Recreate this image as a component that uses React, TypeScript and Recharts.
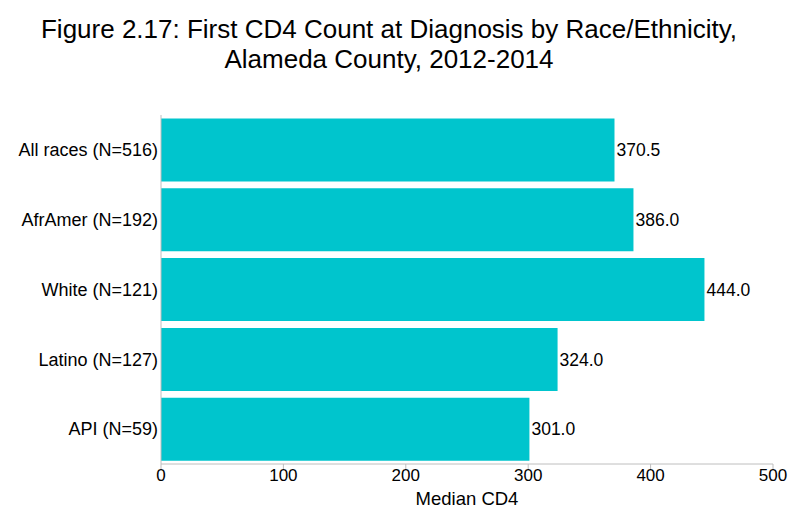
import React from 'react';
import { BarChart, Bar, XAxis, YAxis, LabelList } from 'recharts';

const groups = ['All races (N=516)', 'AfrAmer (N=192)', 'White (N=121)', 'Latino (N=127)', 'API (N=59)'];
const medianCd4 = [370.5, 386.0, 444.0, 324.0, 301.0];
const xTicks = [0, 100, 200, 300, 400, 500];

const data = groups.map((group, i) => ({ group, median: medianCd4[i] }));

const font = '"Liberation Sans", Arial, Helvetica, sans-serif';

const App = () => {
  return (
    <div style={{ position: 'absolute', left: 0, top: 0, width: 793, height: 510, background: '#fff', fontFamily: font }}>
      <div
        style={{
          position: 'absolute',
          left: 0,
          top: 14,
          width: 778,
          textAlign: 'center',
          fontSize: 26,
          lineHeight: '30px',
          color: '#000',
        }}
      >
        Figure 2.17: First CD4 Count at Diagnosis by Race/Ethnicity,
        <br />
        Alameda County, 2012-2014
      </div>
      <BarChart
        width={793}
        height={510}
        data={data}
        layout="vertical"
        margin={{ top: 115, right: 20, left: 0, bottom: 0 }}
        barCategoryGap="5%"
        style={{ position: 'absolute', left: 0, top: 0 }}
      >
        <XAxis
          type="number"
          domain={[0, 500]}
          ticks={xTicks}
          allowDataOverflow
          height={46}
          stroke="#bebebe"
          tickSize={5}
          tickMargin={0}
          tick={{ fill: '#000', fontSize: 17, fontFamily: font }}
          label={{ value: 'Median CD4', position: 'insideBottom', offset: 5, fill: '#000', fontSize: 18.5, fontFamily: font }}
        />
        <YAxis
          type="category"
          dataKey="group"
          width={161}
          stroke="#bebebe"
          tickLine={false}
          tickSize={0}
          tickMargin={3}
          tick={{ fill: '#000', fontSize: 18, fontFamily: font }}
        />
        <Bar dataKey="median" fill="#00c5cd" isAnimationActive={false}>
          <LabelList
            dataKey="median"
            position="right"
            offset={2}
            formatter={(v: number) => v.toFixed(1)}
            style={{ fill: '#000', fontSize: 17.5, fontFamily: font }}
          />
        </Bar>
      </BarChart>
    </div>
  );
};

export default App;
